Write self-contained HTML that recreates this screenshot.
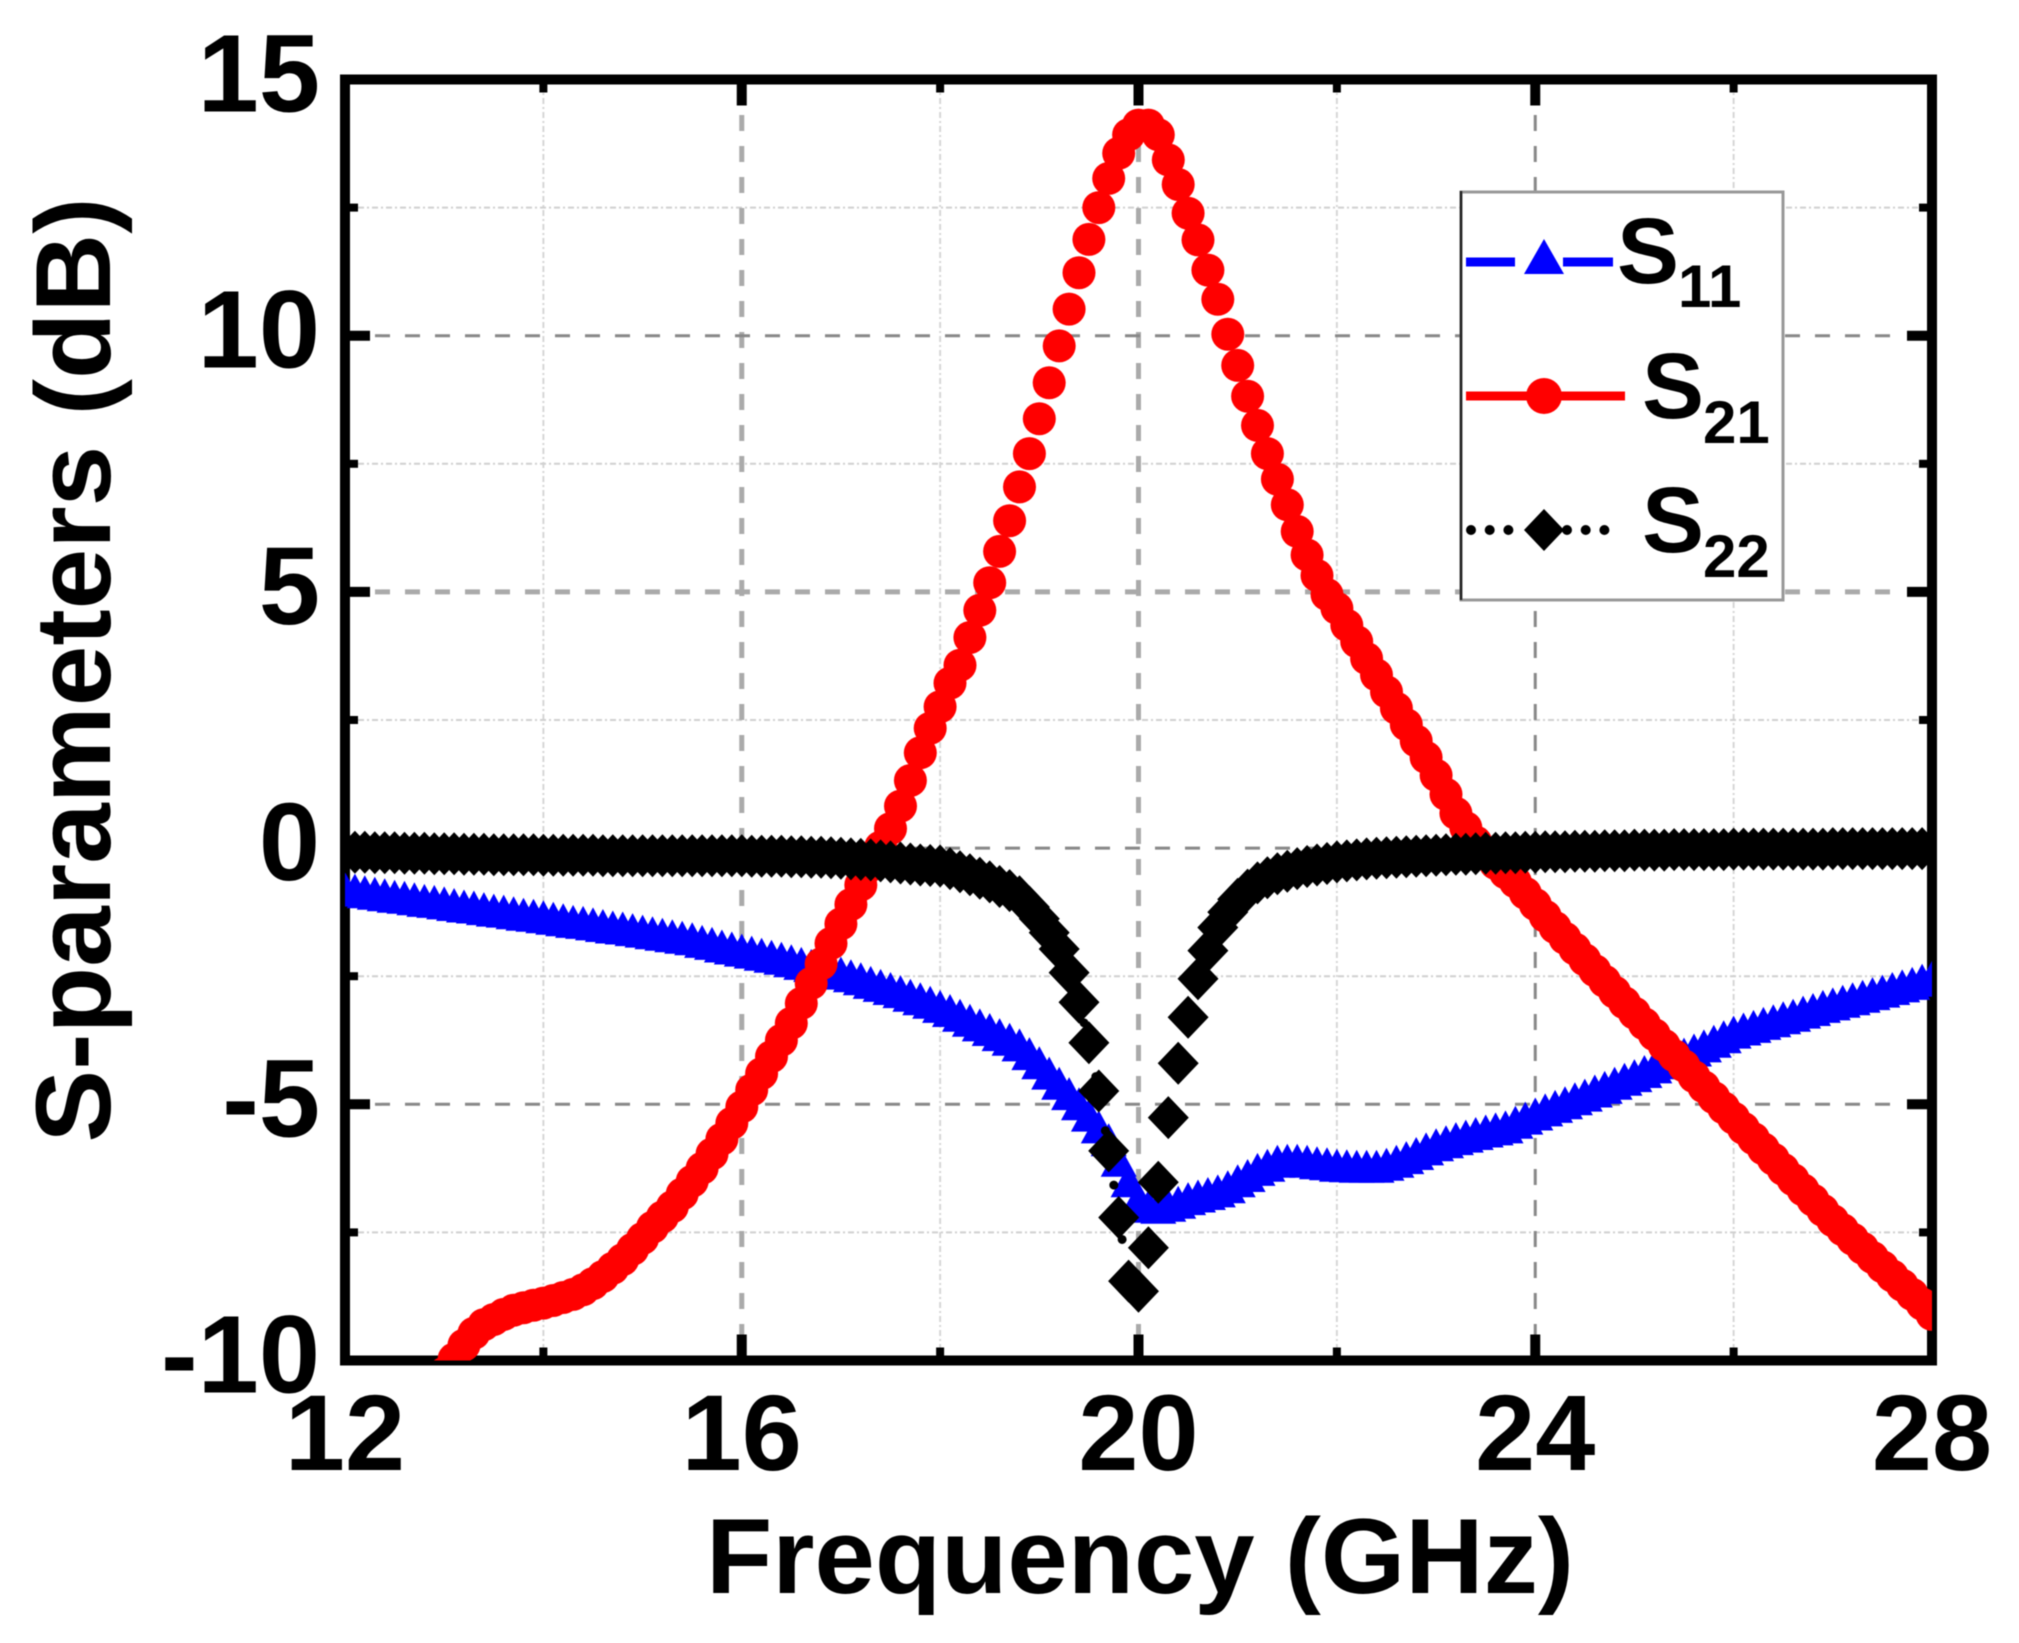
<!DOCTYPE html>
<html lang="en">
<head>
<meta charset="utf-8">
<title>S-parameters vs Frequency</title>
<style>
html,body{margin:0;padding:0;background:#fff;}
body{width:2019px;height:1643px;overflow:hidden;}
svg{display:block;font-family:"Liberation Sans",Arial,sans-serif;font-weight:bold;filter:blur(0.6px);}
</style>
</head>
<body>
<svg id="chart" xmlns="http://www.w3.org/2000/svg" width="2019" height="1643" viewBox="0 0 2019 1643">
  <defs><clipPath id="plot-clip"><rect x="345" y="79.5" width="1587" height="1281"/></clipPath></defs>
  <rect x="0" y="0" width="2019" height="1643" fill="#fff"/>
  <g id="grid"></g>
  <rect x="345" y="79.5" width="1587" height="1281" fill="none" stroke="#000" stroke-width="10"/>
  <g id="ticks"></g>
  <g id="tick-labels"></g>
  <g id="series" clip-path="url(#plot-clip)"></g>
  <text x="110" y="0" transform="rotate(-90 110 0) translate(-670 0)" text-anchor="middle" font-size="107" textLength="945" lengthAdjust="spacingAndGlyphs">S-parameters (dB)</text>
  <text x="1140" y="1593" text-anchor="middle" font-size="107" textLength="868" lengthAdjust="spacingAndGlyphs">Frequency (GHz)</text>

  <g>
    <rect x="1461" y="192" width="322" height="408" fill="#fff" stroke="#999" stroke-width="3"/>
    <line x1="1461" y1="191" x2="1461" y2="600" stroke="#222" stroke-width="2.5"/>
    <g>
      <line x1="1466" y1="262" x2="1515" y2="262" stroke="#00f" stroke-width="9"/>
      <line x1="1563" y1="262" x2="1613" y2="262" stroke="#00f" stroke-width="9"/>
      <polygon points="1544,239 1564,274 1524,274" fill="#00f"/>
      <text x="1617" y="283" font-size="93">S</text>
      <text x="1678" y="307" font-size="60">11</text>
    </g>
    <g>
      <line x1="1466" y1="396" x2="1625" y2="396" stroke="#f00" stroke-width="9"/>
      <circle cx="1544" cy="396" r="18" fill="#f00"/>
      <text x="1642" y="418" font-size="93">S</text>
      <text x="1703" y="443" font-size="60">21</text>
    </g>
    <g>
      <line x1="1471" y1="530" x2="1509" y2="530" stroke="#000" stroke-width="10" stroke-linecap="round" stroke-dasharray="0 18.7"/>
      <line x1="1567" y1="530" x2="1605" y2="530" stroke="#000" stroke-width="10" stroke-linecap="round" stroke-dasharray="0 18.7"/>
      <polygon points="1544,509 1564,530 1544,551 1524,530" fill="#000"/>
      <text x="1642" y="552" font-size="93">S</text>
      <text x="1703" y="577" font-size="60">22</text>
    </g>
  </g>
</svg>
<script>
const xMajorTicks = [12, 16, 20, 24, 28];
const xMinorTicks = [14, 18, 22, 26];
const yMajorTicks = [-10, -5, 0, 5, 10, 15];
const yMinorTicks = [-7.5, -2.5, 2.5, 7.5, 12.5];

const frequencies = [
12.0,12.1,12.2,12.3,12.4,12.5,12.6,12.7,12.8,12.9,
13.0,13.1,13.2,13.3,13.4,13.5,13.6,13.7,13.8,13.9,
14.0,14.1,14.2,14.3,14.4,14.5,14.6,14.7,14.8,14.9,
15.0,15.1,15.2,15.3,15.4,15.5,15.6,15.7,15.8,15.9,
16.0,16.1,16.2,16.3,16.4,16.5,16.6,16.7,16.8,16.9,
17.0,17.1,17.2,17.3,17.4,17.5,17.6,17.7,17.8,17.9,
18.0,18.1,18.2,18.3,18.4,18.5,18.6,18.7,18.8,18.9,
19.0,19.1,19.2,19.3,19.4,19.5,19.6,19.7,19.8,19.9,
20.0,20.1,20.2,20.3,20.4,20.5,20.6,20.7,20.8,20.9,
21.0,21.1,21.2,21.3,21.4,21.5,21.6,21.7,21.8,21.9,
22.0,22.1,22.2,22.3,22.4,22.5,22.6,22.7,22.8,22.9,
23.0,23.1,23.2,23.3,23.4,23.5,23.6,23.7,23.8,23.9,
24.0,24.1,24.2,24.3,24.4,24.5,24.6,24.7,24.8,24.9,
25.0,25.1,25.2,25.3,25.4,25.5,25.6,25.7,25.8,25.9,
26.0,26.1,26.2,26.3,26.4,26.5,26.6,26.7,26.8,26.9,
27.0,27.1,27.2,27.3,27.4,27.5,27.6,27.7,27.8,27.9,
28.0];

const s11 = [
-0.8,-0.83,-0.86,-0.89,-0.92,-0.95,-0.97,-1.0,-1.03,-1.05,
-1.08,-1.11,-1.14,-1.16,-1.19,-1.22,-1.24,-1.27,-1.3,-1.32,
-1.35,-1.38,-1.41,-1.44,-1.46,-1.49,-1.52,-1.55,-1.57,-1.6,
-1.63,-1.66,-1.69,-1.72,-1.75,-1.78,-1.83,-1.87,-1.92,-1.96,
-2.0,-2.04,-2.08,-2.12,-2.16,-2.21,-2.26,-2.3,-2.35,-2.4,
-2.45,-2.5,-2.56,-2.63,-2.69,-2.75,-2.81,-2.88,-2.95,-3.02,
-3.1,-3.18,-3.27,-3.37,-3.46,-3.55,-3.65,-3.74,-3.85,-4.02,
-4.2,-4.4,-4.6,-4.8,-5.0,-5.22,-5.45,-5.7,-6.1,-6.5,
-6.85,-7.0,-7.02,-6.98,-6.92,-6.85,-6.8,-6.75,-6.7,-6.62,
-6.5,-6.4,-6.28,-6.2,-6.12,-6.1,-6.1,-6.12,-6.15,-6.17,
-6.2,-6.21,-6.22,-6.22,-6.22,-6.18,-6.12,-6.05,-5.97,-5.88,
-5.8,-5.74,-5.68,-5.63,-5.58,-5.53,-5.49,-5.45,-5.36,-5.28,
-5.2,-5.12,-5.05,-4.98,-4.9,-4.83,-4.75,-4.68,-4.6,-4.52,
-4.45,-4.37,-4.28,-4.2,-4.12,-4.03,-3.95,-3.87,-3.78,-3.69,
-3.6,-3.54,-3.49,-3.43,-3.38,-3.32,-3.27,-3.21,-3.16,-3.1,
-3.05,-3.0,-2.95,-2.9,-2.85,-2.8,-2.75,-2.7,-2.65,-2.59,
-2.53];

const s21 = [
-13.6,-13.3,-13.0,-12.7,-12.3,-11.9,-11.6,-11.25,-10.9,-10.55,
-10.25,-9.97,-9.7,-9.47,-9.3,-9.2,-9.1,-9.02,-8.97,-8.92,
-8.88,-8.83,-8.77,-8.71,-8.62,-8.5,-8.36,-8.2,-8.03,-7.83,
-7.62,-7.4,-7.2,-7.0,-6.75,-6.5,-6.25,-5.97,-5.68,-5.37,
-5.05,-4.72,-4.4,-4.07,-3.75,-3.42,-3.03,-2.64,-2.26,-1.86,
-1.48,-1.1,-0.72,-0.34,0.02,0.38,0.82,1.32,1.86,2.34,
2.76,3.22,3.57,4.11,4.64,5.18,5.79,6.39,7.05,7.7,
8.38,9.08,9.8,10.52,11.23,11.88,12.5,13.07,13.56,13.92,
14.11,14.11,13.92,13.43,12.95,12.39,11.87,11.28,10.71,10.03,
9.42,8.82,8.25,7.7,7.2,6.7,6.18,5.72,5.32,4.95,
4.68,4.35,4.03,3.7,3.38,3.05,2.73,2.41,2.09,1.77,
1.42,1.05,0.68,0.4,0.12,-0.12,-0.3,-0.48,-0.66,-0.88,
-1.1,-1.33,-1.55,-1.76,-1.97,-2.18,-2.39,-2.6,-2.81,-3.02,
-3.22,-3.43,-3.64,-3.85,-4.05,-4.25,-4.46,-4.66,-4.87,-5.07,
-5.27,-5.47,-5.67,-5.87,-6.07,-6.27,-6.47,-6.67,-6.87,-7.07,
-7.27,-7.45,-7.63,-7.81,-7.99,-8.17,-8.35,-8.53,-8.71,-8.9,
-9.1];

const s22 = [
-0.07,-0.08,-0.08,-0.09,-0.09,-0.09,-0.1,-0.1,-0.1,-0.11,
-0.11,-0.11,-0.12,-0.12,-0.12,-0.13,-0.13,-0.13,-0.13,-0.13,
-0.14,-0.14,-0.14,-0.14,-0.14,-0.14,-0.15,-0.15,-0.15,-0.15,
-0.15,-0.15,-0.15,-0.15,-0.15,-0.15,-0.15,-0.15,-0.15,-0.15,
-0.15,-0.16,-0.16,-0.16,-0.16,-0.17,-0.17,-0.18,-0.18,-0.19,
-0.2,-0.21,-0.22,-0.23,-0.25,-0.27,-0.29,-0.31,-0.33,-0.34,
-0.35,-0.4,-0.46,-0.52,-0.59,-0.66,-0.75,-0.83,-0.95,-1.15,
-1.38,-1.65,-1.97,-2.43,-3.01,-3.8,-4.74,-5.91,-7.21,-8.45,
-8.65,-7.8,-6.52,-5.26,-4.2,-3.3,-2.55,-2.0,-1.55,-1.25,
-1.0,-0.82,-0.68,-0.58,-0.5,-0.45,-0.4,-0.36,-0.33,-0.3,
-0.27,-0.25,-0.23,-0.21,-0.2,-0.19,-0.18,-0.17,-0.16,-0.15,
-0.14,-0.13,-0.12,-0.12,-0.11,-0.1,-0.1,-0.09,-0.09,-0.08,
-0.08,-0.07,-0.07,-0.07,-0.06,-0.06,-0.06,-0.05,-0.05,-0.05,
-0.04,-0.04,-0.04,-0.04,-0.03,-0.03,-0.03,-0.03,-0.03,-0.03,
-0.02,-0.02,-0.02,-0.02,-0.02,-0.02,-0.02,-0.02,-0.02,-0.02,
-0.01,-0.01,-0.01,-0.01,-0.01,-0.01,-0.01,-0.01,-0.01,-0.01,
-0.01];

const NS = 'http://www.w3.org/2000/svg';
const xScale = f => 345 + (f - 12) * (1587 / 16);
const yScale = v => 1360.5 - (v + 10) * (1281 / 25);

function mk(tag, attrs, parent) {
  const el = document.createElementNS(NS, tag);
  for (const k in attrs) el.setAttribute(k, attrs[k]);
  parent.appendChild(el);
  return el;
}

const gridG = document.getElementById('grid');
const ticksG = document.getElementById('ticks');
const labelsG = document.getElementById('tick-labels');
const seriesG = document.getElementById('series');

function majorStyle(wide) {
  return wide ? {stroke: '#aaa', 'stroke-width': 5} : {stroke: '#888', 'stroke-width': 3};
}

xMinorTicks.forEach(t => {
  const x = xScale(t);
  const g = mk('line', {x1: x, x2: x, y1: 84, y2: 1355, stroke: '#d6d6d6', 'stroke-width': 2, 'stroke-dasharray': '6 3 2 3'}, gridG);
  
  
  [[79.5, 92.5], [1347.5, 1360.5]].forEach(p => {
    const k = mk('line', {x1: x, x2: x, y1: p[0], y2: p[1], stroke: '#000', 'stroke-width': 8}, ticksG);
    
    
  });
});
yMinorTicks.forEach(t => {
  const y = yScale(t);
  const g = mk('line', {x1: 358, x2: 1919, y1: y, y2: y, stroke: '#d0d0d0', 'stroke-width': 2, 'stroke-dasharray': '6 3 2 3'}, gridG);
  
  
  [[345, 358], [1919, 1932]].forEach(p => {
    const k = mk('line', {x1: p[0], x2: p[1], y1: y, y2: y, stroke: '#000', 'stroke-width': 8}, ticksG);
    
    
  });
});
xMajorTicks.forEach(t => {
  const x = xScale(t);
  if (t > 12 && t < 28) {
    const g = mk('line', Object.assign({x1: x, x2: x, y1: 84, y2: 1355, 'stroke-dasharray': '16 15'}, majorStyle(t === 20 || t === 16)), gridG);
    
    
    [[79.5, 105.5], [1334.5, 1360.5]].forEach(p => {
      const k = mk('line', {x1: x, x2: x, y1: p[0], y2: p[1], stroke: '#000', 'stroke-width': 10}, ticksG);
      
      
    });
  }
  const l = mk('text', {x: x, y: 1470, 'text-anchor': 'middle', 'font-size': 108}, labelsG);
  l.textContent = String(t);
  
  
});
yMajorTicks.forEach(t => {
  const y = yScale(t);
  if (t > -10 && t < 15) {
    const g = mk('line', Object.assign({x1: 375, x2: 1905, y1: y, y2: y, 'stroke-dasharray': '15 15'}, majorStyle(t === 5)), gridG);
    
    
    [[345, 370], [1907, 1932]].forEach(p => {
      const k = mk('line', {x1: p[0], x2: p[1], y1: y, y2: y, stroke: '#000', 'stroke-width': 10}, ticksG);
      
      
    });
  }
  const l = mk('text', {x: 320, y: y + 32, 'text-anchor': 'end', 'font-size': 110}, labelsG);
  l.textContent = String(t);
  
  
});

function linePath(values) {
  return values.map((v, i) => (i ? 'L' : 'M') + xScale(frequencies[i]).toFixed(1) + ' ' + yScale(v).toFixed(1)).join(' ');
}

s11.forEach((v, i) => {
  const x = xScale(frequencies[i]);
  const y = yScale(v);
  const m = mk('polygon', {points: [[x, y - 17], [x + 18, y + 16], [x - 18, y + 16]].map(p => p[0].toFixed(1) + ',' + p[1].toFixed(1)).join(' '), fill: '#00f'}, seriesG);
  
  
});

s21.forEach((v, i) => {
  const m = mk('circle', {cx: xScale(frequencies[i]).toFixed(1), cy: yScale(v).toFixed(1), r: 16.5, fill: '#f00'}, seriesG);
  
  
});

const s22Line = mk('path', {d: linePath(s22), fill: 'none', stroke: '#000', 'stroke-width': 9, 'stroke-linecap': 'round', 'stroke-dasharray': '0 55'}, seriesG);


s22.forEach((v, i) => {
  const x = xScale(frequencies[i]);
  const y = yScale(v);
  const m = mk('polygon', {points: [[x, y - 21.5], [x + 20.5, y], [x, y + 21.5], [x - 20.5, y]].map(p => p[0].toFixed(1) + ',' + p[1].toFixed(1)).join(' '), fill: '#000'}, seriesG);
  
  
});
</script>
</body>
</html>
